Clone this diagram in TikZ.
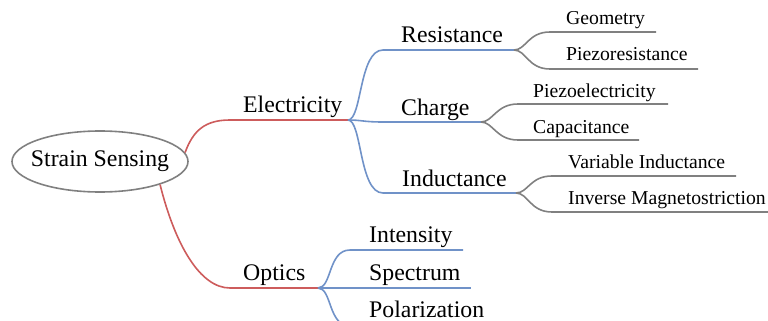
\documentclass[tikz,border=0pt]{standalone}
\usepackage{fontspec}
\setmainfont{Liberation Serif}
\usetikzlibrary{shapes.geometric}
\definecolor{redE}{RGB}{205,92,92}
\definecolor{blueE}{RGB}{112,146,200}
\definecolor{greyE}{RGB}{128,128,128}
\begin{document}
\begin{tikzpicture}[x=1pt,y=-1pt,
  big/.style={anchor=base west,inner sep=0pt,font=\fontsize{23.8}{24}\selectfont},
  small/.style={anchor=base west,inner sep=0pt,font=\fontsize{19.7}{20}\selectfont},
  lvlA/.style={draw=redE,line width=1.6pt},
  lvlB/.style={draw=blueE,line width=1.6pt},
  lvlC/.style={draw=greyE,line width=1.6pt},
  rootbox/.style={ellipse,draw=greyE,line width=1.6pt,minimum width=176pt,minimum height=61pt,inner xsep=-8pt,inner ysep=0pt,font=\fontsize{23.8}{24}\selectfont}]
\useasboundingbox (0,0) rectangle (768,321);
\node[rootbox] (root) at (100,161.5) {Strain Sensing};
% level 1
\node[big] (elec) at (243,112) {Electricity};
\node[big] (opt) at (243,280) {Optics};
% level 2
\node[big] (res) at (401,43) {Resistance};
\node[big] (cha) at (401,115) {Charge};
\node[big] (ind) at (402,186) {Inductance};
\node[big] (int) at (369,242) {Intensity};
\node[big] (spe) at (369,280) {Spectrum};
\node[big] (pol) at (369,317) {Polarization};
% level 3
\node[small] (geo) at (566,25) {Geometry};
\node[small] (pzr) at (566,61) {Piezoresistance};
\node[small] (pze) at (533,97) {Piezoelectricity};
\node[small] (cap) at (533,133) {Capacitance};
\node[small] (vin) at (568,168) {Variable Inductance};
\node[small] (imag) at (568,204) {Inverse Magnetostriction};
% line coordinates
\coordinate (eS) at (230,120); \coordinate (eE) at (348,120);
\coordinate (oS) at (230,288); \coordinate (oE) at (318,288);
\coordinate (rS) at (383,50);  \coordinate (rE) at (514,50);
\coordinate (cS) at (383,122); \coordinate (cE) at (481,122);
\coordinate (iS) at (383,193); \coordinate (iE) at (516,193);
\coordinate (inS) at (350,250); \coordinate (inE) at (463,250);
\coordinate (spE) at (471,288);
\coordinate (poS) at (350,326); \coordinate (poE) at (490,326);
\coordinate (gS) at (550,32);  \coordinate (gE) at (656,32);
\coordinate (prS) at (550,69); \coordinate (prE) at (698,69);
\coordinate (peS) at (518,104); \coordinate (peE) at (668,104);
\coordinate (caS) at (518,140); \coordinate (caE) at (639,140);
\coordinate (viS) at (552,176); \coordinate (viE) at (736,176);
\coordinate (imS) at (552,212); \coordinate (imE) at (768,212);
% level 1 connectors
\draw[lvlA] (root.6) .. controls +(8,-22) and +(-25,0) .. (eS) -- (eE);
\draw[lvlA] (root.-21) .. controls +(15,60) and +(-30,0) .. (oS) -- (oE);
% level 2 connectors
\draw[lvlB] (eE) .. controls +(14,0) and +(-24,0) .. (rS) -- (rE);
\draw[lvlB] (eE) .. controls +(14,0) and +(-20,0) .. (cS) -- (cE);
\draw[lvlB] (eE) .. controls +(14,0) and +(-24,0) .. (iS) -- (iE);
\draw[lvlB] (oE) .. controls +(14,0) and +(-22,0) .. (inS) -- (inE);
\draw[lvlB] (oE) -- (spE);
\draw[lvlB] (oE) .. controls +(14,0) and +(-22,0) .. (poS) -- (poE);
% level 3 connectors
\draw[lvlC] (rE) .. controls +(12,0) and +(-22,0) .. (gS) -- (gE);
\draw[lvlC] (rE) .. controls +(12,0) and +(-22,0) .. (prS) -- (prE);
\draw[lvlC] (cE) .. controls +(12,0) and +(-22,0) .. (peS) -- (peE);
\draw[lvlC] (cE) .. controls +(12,0) and +(-22,0) .. (caS) -- (caE);
\draw[lvlC] (iE) .. controls +(12,0) and +(-22,0) .. (viS) -- (viE);
\draw[lvlC] (iE) .. controls +(12,0) and +(-22,0) .. (imS) -- (imE);
\end{tikzpicture}
\end{document}
